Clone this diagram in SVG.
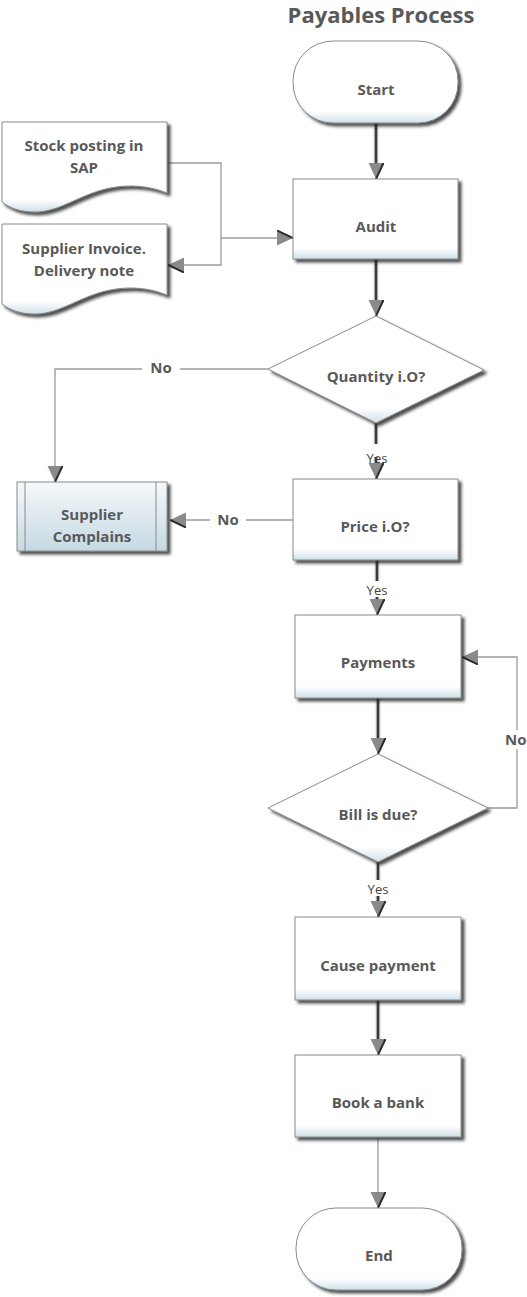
<svg xmlns="http://www.w3.org/2000/svg" width="527" height="1297" viewBox="0 0 527 1297">
<defs>
<style>
.t{font-family:"Open Sans","Liberation Sans",sans-serif;font-weight:bold;font-size:15px;fill:#595959;text-anchor:middle}
.title{font-size:22px}
.lbl{font-family:"Open Sans","Liberation Sans",sans-serif;font-size:13px;fill:#444;text-anchor:middle}
.shape{fill:url(#g);stroke:#8a8a8a;stroke-width:1;filter:url(#sh)}
.sub{fill:url(#gb);stroke:#8a8a8a;stroke-width:1;filter:url(#sh)}
.thin{fill:none;stroke:#9a9a9a;stroke-width:1.3}
.thickO{fill:none;stroke:#a8a8a8;stroke-width:4.5}
.thickI{fill:none;stroke:#3a3a3a;stroke-width:2}
.bg{fill:#fff}
</style>
<linearGradient id="g" x1="0" y1="0" x2="0" y2="1">
<stop offset="0" stop-color="#ffffff"/>
<stop offset="0.86" stop-color="#ffffff"/>
<stop offset="1" stop-color="#cfe0e8"/>
</linearGradient>
<linearGradient id="gb" x1="0" y1="0" x2="0" y2="1">
<stop offset="0" stop-color="#f6f9fb"/>
<stop offset="1" stop-color="#c6d9e3"/>
</linearGradient>
<filter id="sh" x="-10%" y="-10%" width="125%" height="130%">
<feDropShadow dx="3" dy="3" stdDeviation="1.5" flood-color="#222" flood-opacity="0.8"/>
</filter>
<marker id="ah" viewBox="0 0 16 16" markerWidth="16" markerHeight="16" refX="0" refY="8" orient="auto" markerUnits="userSpaceOnUse">
<path d="M0,0.5 L16,8 L0,15.5 Z" fill="#8a8a8a"/>
<path d="M16,8 L0,0.5" stroke="#2a2a2a" stroke-width="2" fill="none"/>
</marker>
</defs>
<rect width="527" height="1297" fill="#fff"/>
<text class="t title" x="381" y="23">Payables Process</text>

<g id="connectors">
<path class="thin" d="M167,163 H221 V265 H184" marker-end="url(#ah)"/>
<path class="thin" d="M221,238 H277" marker-end="url(#ah)"/>
<path class="thickO" d="M376,123 V163"/>
<path class="thickI" d="M376,123 V163" marker-end="url(#ah)"/>
<path class="thickO" d="M376,259 V300"/>
<path class="thickI" d="M376,259 V300" marker-end="url(#ah)"/>
<path class="thickO" d="M376,423 V463"/>
<path class="thickI" d="M376,423 V463" marker-end="url(#ah)"/>
<path class="thin" d="M268,369 H55 V466" marker-end="url(#ah)"/>
<path class="thin" d="M293,520 H186" marker-end="url(#ah)"/>
<path class="thickO" d="M377,560 V599"/>
<path class="thickI" d="M377,560 V599" marker-end="url(#ah)"/>
<path class="thickO" d="M378,698 V738"/>
<path class="thickI" d="M378,698 V738" marker-end="url(#ah)"/>
<path class="thin" d="M488,808 H517 V657 H478" marker-end="url(#ah)"/>
<path class="thickO" d="M378,862 V901"/>
<path class="thickI" d="M378,862 V901" marker-end="url(#ah)"/>
<path class="thickO" d="M378,1000 V1039"/>
<path class="thickI" d="M378,1000 V1039" marker-end="url(#ah)"/>
<path class="thin" d="M378,1137 V1192" marker-end="url(#ah)"/>
<rect class="bg" x="142" y="359" width="38" height="19"/>
<text class="t" x="161" y="373">No</text>
<rect class="bg" x="210" y="510" width="36" height="19"/>
<text class="t" x="228" y="525">No</text>
<rect class="bg" x="503" y="730" width="24" height="19"/>
<text class="t" x="505" y="745" style="text-anchor:start">No</text>
<rect class="bg" x="360" y="444" width="32" height="13"/>
<text class="lbl" x="377" y="463">Yes</text>
<rect class="bg" x="360" y="581" width="34" height="16"/>
<text class="lbl" x="377" y="595">Yes</text>
<rect class="bg" x="361" y="880" width="34" height="16"/>
<text class="lbl" x="378" y="894">Yes</text>
</g>

<g id="start">
<rect class="shape" x="293" y="41" width="165" height="82" rx="40" ry="40"/>
<text class="t" x="376" y="95">Start</text>
</g>
<g id="audit">
<rect class="shape" x="293" y="179" width="165" height="80"/>
<text class="t" x="376" y="232">Audit</text>
</g>
<g id="stock">
<path class="shape" d="M2,122 H167 V193 C150,186 130,184 110,188 C80,194 60,212 35,212 C20,212 10,208 2,202 Z"/>
<text class="t" x="84" y="151">Stock posting in</text>
<text class="t" x="84" y="173">SAP</text>
</g>
<g id="invoice">
<path class="shape" d="M2,224 H167 V295 C150,288 130,286 110,290 C80,296 60,314 35,314 C20,314 10,310 2,304 Z"/>
<text class="t" x="84" y="254">Supplier Invoice.</text>
<text class="t" x="84" y="276">Delivery note</text>
</g>
<g id="quantity">
<path class="shape" d="M376,316 L484,370 L376,423 L268,369 Z"/>
<text class="t" x="376" y="382">Quantity i.O?</text>
</g>
<g id="complains">
<rect class="sub" x="17" y="482" width="150" height="69"/>
<line x1="25" y1="482" x2="25" y2="551" stroke="#8a8a8a"/>
<line x1="156" y1="482" x2="156" y2="551" stroke="#8a8a8a"/>
<text class="t" x="92" y="520">Supplier</text>
<text class="t" x="92" y="542">Complains</text>
</g>
<g id="price">
<rect class="shape" x="293" y="479" width="165" height="81"/>
<text class="t" x="375" y="532">Price i.O?</text>
</g>
<g id="payments">
<rect class="shape" x="295" y="615" width="166" height="83"/>
<text class="t" x="378" y="668">Payments</text>
</g>
<g id="bill">
<path class="shape" d="M378,754 L488,808 L378,862 L268,808 Z"/>
<text class="t" x="378" y="820">Bill is due?</text>
</g>
<g id="cause">
<rect class="shape" x="295" y="917" width="166" height="83"/>
<text class="t" x="378" y="971">Cause payment</text>
</g>
<g id="book">
<rect class="shape" x="295" y="1055" width="166" height="82"/>
<text class="t" x="378" y="1108">Book a bank</text>
</g>
<g id="end">
<rect class="shape" x="296" y="1208" width="166" height="82" rx="40" ry="40"/>
<text class="t" x="379" y="1261">End</text>
</g>
</svg>
